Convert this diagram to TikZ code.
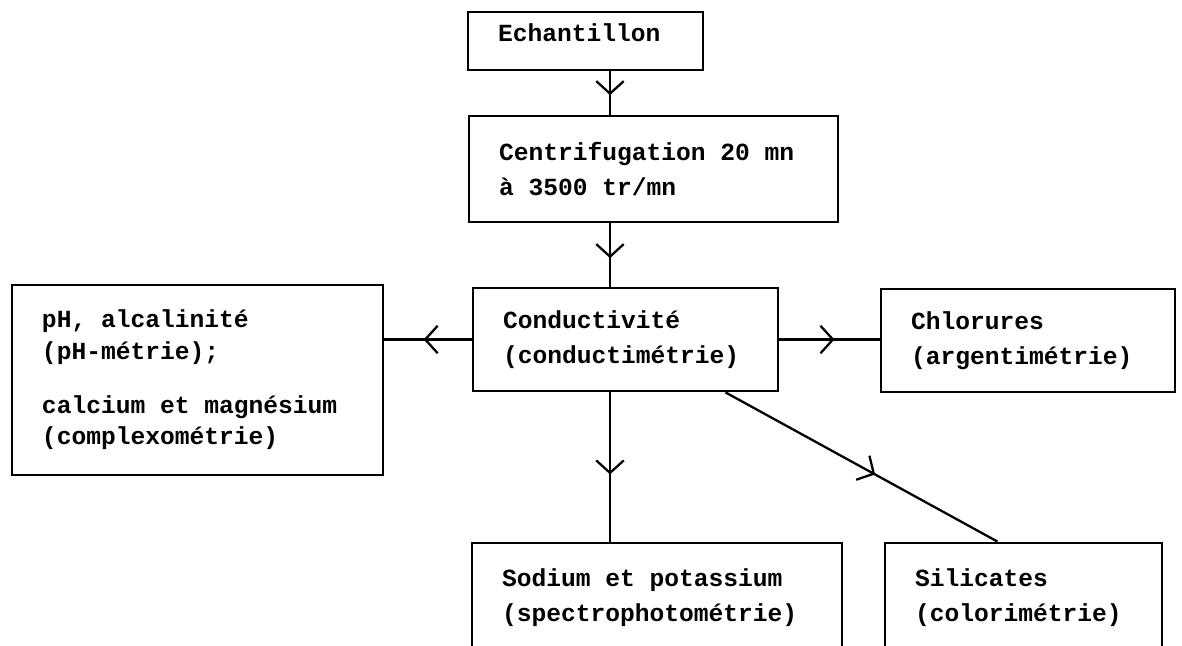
\documentclass[tikz,border=0pt]{standalone}
\usepackage{fontspec}
\setmonofont{Liberation Mono}
\usetikzlibrary{arrows.meta,positioning,calc,decorations.markings}
\tikzset{>=latex}
\DeclareRobustCommand\boxfont{\ttfamily\bfseries\fontsize{14pt}{20pt}\selectfont}
\DeclareRobustCommand\listfont{\ttfamily\bfseries\fontsize{14pt}{18pt}\selectfont}
\tikzset{
  box/.style={draw, line width=1.6pt, align=left, inner xsep=0.6cm, inner ysep=0pt, font=\boxfont,
    execute at begin node={\spaceskip=8.4pt\xspaceskip=8.4pt\relax}},
  flow/.style={line width=1.3pt,
    decoration={markings, mark=at position 0.55 with {\arrow{Straight Barb[length=2.5mm,width=5.5mm,line width=1.3pt]}}},
    postaction={decorate}}
}

\begin{document}
\begin{tikzpicture}
    \clip (0,0) rectangle (23.64,-12.9);

    \node [box, minimum width=4.7cm, text width=3.5cm, minimum height=1.16cm, text depth=0.32cm] (echant) at (11.71,-0.82) {Echantillon};
    \node [box, minimum width=7.38cm, text width=6.18cm, minimum height=2.12cm] (centri) at (13.07,-3.38) {Centrifugation 20 mn\\à 3500 tr/mn};
    \node [box, minimum width=6.1cm, text width=4.9cm, minimum height=2.06cm] (conduc) at (12.51,-6.79) {Conductivité\\(conductimétrie)};
    \node [box, minimum width=7.42cm, text width=6.22cm, minimum height=3.8cm, font=\listfont] (phca) at (3.95,-7.6)
      {pH, alcalinité\\(pH-métrie);\\[0.44cm]calcium et magnésium\\(complexométrie)};
    \node [box, minimum width=5.88cm, text width=4.68cm, minimum height=2.06cm] (chlor) at (20.56,-6.81) {Chlorures\\(argentimétrie)};
    \node [box, minimum width=7.4cm, text width=6.2cm, minimum height=2.18cm] (sodium) at (13.14,-11.95) {Sodium et potassium\\(spectrophotométrie)};
    \node [box, minimum width=5.54cm, text width=4.34cm, minimum height=2.18cm] (silic) at (20.47,-11.95) {Silicates\\(colorimétrie)};

    % vertical line of the arrows
    \coordinate (axis) at (12.2,0);

    \draw [flow] (echant.south -| axis) -- (centri.north -| axis);
    \draw [flow] (centri.south -| axis) -- (conduc.north -| axis);
    \draw [flow] (conduc.west) -- (conduc.west -| phca.east);
    \draw [flow] (conduc.east) -- (conduc.east -| chlor.west);
    \draw [flow] (conduc.south -| axis) -- (sodium.north -| axis);
    \draw [flow] ($(conduc.south)!0.65!(conduc.south east)$) -- ($(silic.north)+(-0.52,0)$);
\end{tikzpicture}
\end{document}
